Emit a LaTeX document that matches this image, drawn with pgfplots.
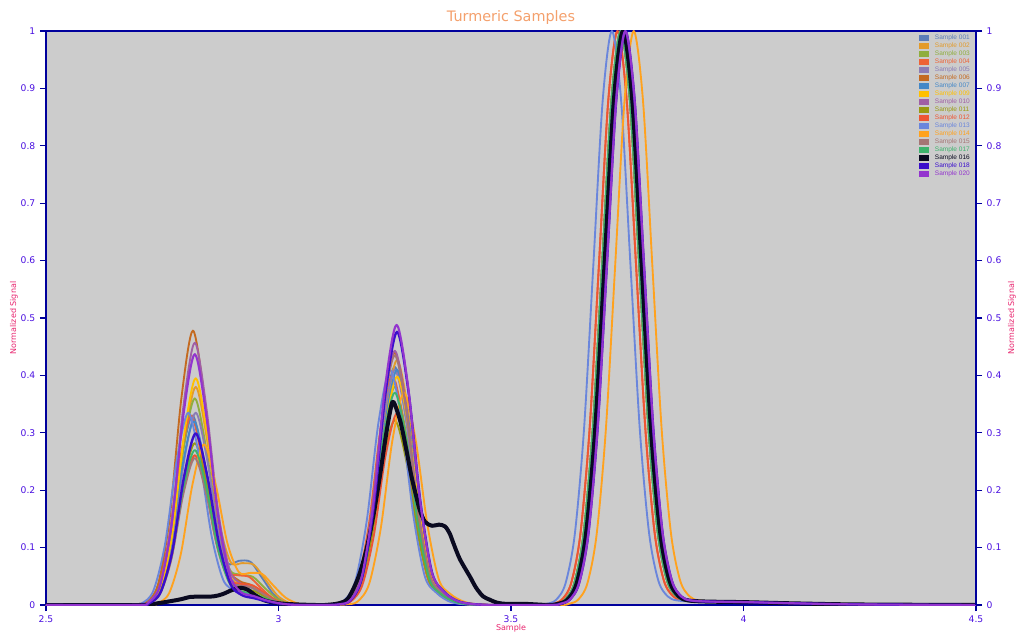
\documentclass[border=0pt]{standalone}
\usepackage{fontspec}
\setmainfont{DejaVu Sans}
\newfontfamily\legfont{Liberation Sans}
\usepackage{pgfplots}
\pgfplotsset{compat=1.18}

\definecolor{plotbg}{HTML}{CCCCCC}
\definecolor{axblue}{HTML}{00009C}
\definecolor{ticklab}{HTML}{4A10E0}
\definecolor{labpink}{HTML}{E8246E}
\definecolor{titleor}{HTML}{F4A06C}
\definecolor{c001}{HTML}{5B7DB8}
\definecolor{c002}{HTML}{E39B2B}
\definecolor{c003}{HTML}{8FAE3E}
\definecolor{c004}{HTML}{EE6336}
\definecolor{c005}{HTML}{8B7CB5}
\definecolor{c006}{HTML}{C46A20}
\definecolor{c007}{HTML}{4488C8}
\definecolor{c009}{HTML}{FFC000}
\definecolor{c010}{HTML}{A05FA5}
\definecolor{c011}{HTML}{999A10}
\definecolor{c012}{HTML}{EE5533}
\definecolor{c013}{HTML}{6A86DC}
\definecolor{c014}{HTML}{FFA21E}
\definecolor{c015}{HTML}{A57575}
\definecolor{c017}{HTML}{3DB36C}
\definecolor{c016}{HTML}{0A0A20}
\definecolor{c018}{HTML}{3A0ECC}
\definecolor{c020}{HTML}{9334CE}

\pgfplotsset{
  spec/.style={smooth, line width=1.4pt, line join=round},
  common/.style={
    scale only axis, width=697.5pt, height=430.5pt,
    xmin=2.5, xmax=4.5, ymin=0, ymax=1,
    xtick={2.5,3,3.5,4,4.5},
    ytick={0,0.1,0.2,0.3,0.4,0.5,0.6,0.7,0.8,0.9,1},
    axis line style={draw=axblue, line width=0.8pt},
    tick align=outside, major tick length=4.5pt,
    every tick/.style={axblue, line width=0.8pt},
    tick label style={font=\fontsize{6.9}{8}\selectfont, text=ticklab},
    /pgf/number format/assume math mode=true,
    label style={font=\fontsize{6}{7}\selectfont, text=labpink},
  },
}

\begin{document}
\begin{tikzpicture}
\begin{axis}[
  common, name=main,
  axis background/.style={fill=plotbg},
  xtick pos=bottom, ytick pos=left,
  xlabel={Sample}, ylabel={Normalized Signal},
  xlabel style={at={(axis description cs:0.5,-0.040)}, anchor=center},
  ylabel style={at={(axis description cs:-0.0344,0.5)}, anchor=center},
  title={Turmeric Samples},
  every axis title shift=0pt,
  title style={at={(axis description cs:0.5,1.0226)}, anchor=center,
    font=\fontsize{10.8}{12}\selectfont, text=titleor},
  legend style={at={(axis description cs:0.9345,1.0)}, anchor=north west,
    draw=none, fill=none, font=\legfont\fontsize{4.9}{5.5}\selectfont,
    row sep=0pt,
    nodes={inner sep=0.7pt, text height=3.6pt, text depth=1pt},
    /tikz/every odd column/.append style={column sep=3.5pt}},
  legend cell align=left,
  legend image code/.code={\path[fill, draw=none] (0pt,-2.35pt) rectangle (7.5pt,2.35pt);},
]

\addplot[spec, c001] coordinates {(2.5,0)
 (2.69,0) (2.715,.003) (2.74,.025) (2.765,.105) (2.79,.248) (2.815,.330) (2.84,.248) (2.865,.129) (2.89,.073) (2.915,.077) (2.94,.075) (2.965,.047) (2.99,.018) (3.015,.004) (3.04,.001) (3.065,0)
 (3.10,0) (3.125,.001) (3.15,.007) (3.175,.042) (3.2,.150) (3.225,.322) (3.25,.415) (3.275,.322) (3.3,.158) (3.325,.050) (3.35,.021) (3.375,.007) (3.4,.002) (3.45,0)
 (3.576,0) (3.596,.002) (3.616,.009) (3.636,.037) (3.656,.122) (3.676,.306) (3.696,.591) (3.716,.877) (3.736,1) (3.756,.877) (3.776,.591) (3.796,.306) (3.816,.125) (3.836,.042) (3.856,.015) (3.876,.008) (3.916,.006) (3.996,.005) (4.096,.003) (4.236,.001)
 (4.5,0)};
\addlegendentry{\textcolor{c001}{Sample 001}}

\addplot[spec, c002] coordinates {(2.5,0)
 (2.697,0) (2.722,.004) (2.747,.029) (2.772,.120) (2.797,.285) (2.822,.380) (2.847,.285) (2.872,.146) (2.897,.075) (2.922,.073) (2.947,.070) (2.972,.044) (2.997,.017) (3.022,.004) (3.047,.001) (3.072,0)
 (3.105,0) (3.13,.001) (3.155,.007) (3.18,.043) (3.205,.154) (3.23,.331) (3.255,.427) (3.28,.331) (3.305,.162) (3.33,.051) (3.355,.021) (3.38,.008) (3.405,.003) (3.455,0)
 (3.581,0) (3.601,.002) (3.621,.009) (3.641,.037) (3.661,.122) (3.681,.306) (3.701,.591) (3.721,.877) (3.741,1) (3.761,.877) (3.781,.591) (3.801,.306) (3.821,.125) (3.841,.042) (3.861,.015) (3.881,.008) (3.921,.006) (4.001,.005) (4.101,.003) (4.241,.001)
 (4.5,0)};
\addlegendentry{\textcolor{c002}{Sample 002}}

\addplot[spec, c003] coordinates {(2.5,0)
 (2.695,0) (2.72,.004) (2.745,.027) (2.77,.114) (2.795,.270) (2.82,.360) (2.845,.270) (2.87,.135) (2.895,.062) (2.92,.053) (2.945,.049) (2.97,.030) (2.995,.012) (3.02,.003) (3.045,0) (3.07,0)
 (3.10,0) (3.125,.001) (3.15,.006) (3.175,.038) (3.2,.137) (3.225,.295) (3.25,.380) (3.275,.295) (3.3,.144) (3.325,.046) (3.35,.019) (3.375,.007) (3.4,.002) (3.45,0)
 (3.576,0) (3.596,.002) (3.616,.009) (3.636,.037) (3.656,.122) (3.676,.306) (3.696,.591) (3.716,.877) (3.736,1) (3.756,.877) (3.776,.591) (3.796,.306) (3.816,.125) (3.836,.042) (3.856,.015) (3.876,.008) (3.916,.006) (3.996,.005) (4.096,.003) (4.236,.001)
 (4.5,0)};
\addlegendentry{\textcolor{c003}{Sample 003}}

\addplot[spec, c004] coordinates {(2.5,0)
 (2.687,0) (2.712,.003) (2.737,.025) (2.762,.105) (2.787,.248) (2.812,.330) (2.837,.248) (2.862,.124) (2.887,.059) (2.912,.052) (2.937,.049) (2.962,.030) (2.987,.012) (3.012,.003) (3.037,0) (3.062,0)
 (3.095,0) (3.12,.001) (3.145,.007) (3.17,.040) (3.195,.144) (3.22,.310) (3.245,.400) (3.27,.310) (3.295,.152) (3.32,.048) (3.345,.020) (3.37,.007) (3.395,.002) (3.445,0)
 (3.569,0) (3.589,.002) (3.609,.009) (3.629,.037) (3.649,.122) (3.669,.306) (3.689,.591) (3.709,.877) (3.729,1) (3.749,.877) (3.769,.591) (3.789,.306) (3.809,.125) (3.829,.042) (3.849,.015) (3.869,.008) (3.909,.006) (3.989,.005) (4.089,.003) (4.229,.001)
 (4.5,0)};
\addlegendentry{\textcolor{c004}{Sample 004}}

\addplot[spec, c005] coordinates {(2.5,0)
 (2.697,0) (2.722,.003) (2.747,.025) (2.772,.106) (2.797,.251) (2.822,.335) (2.847,.251) (2.872,.123) (2.897,.049) (2.922,.034) (2.947,.030) (2.972,.018) (2.997,.007) (3.022,.002) (3.047,0) (3.072,0)
 (3.10,0) (3.125,.001) (3.15,.007) (3.175,.041) (3.2,.148) (3.225,.318) (3.25,.410) (3.275,.318) (3.3,.156) (3.325,.049) (3.35,.021) (3.375,.007) (3.4,.002) (3.45,0)
 (3.581,0) (3.601,.002) (3.621,.009) (3.641,.037) (3.661,.122) (3.681,.306) (3.701,.591) (3.721,.877) (3.741,1) (3.761,.877) (3.781,.591) (3.801,.306) (3.821,.125) (3.841,.042) (3.861,.015) (3.881,.008) (3.921,.006) (4.001,.005) (4.101,.003) (4.241,.001)
 (4.5,0)};
\addlegendentry{\textcolor{c005}{Sample 005}}

\addplot[spec, c006] coordinates {(2.5,0)
 (2.691,0) (2.716,.005) (2.741,.036) (2.766,.152) (2.791,.359) (2.816,.478) (2.841,.359) (2.866,.174) (2.891,.066) (2.916,.042) (2.941,.035) (2.966,.021) (2.991,.008) (3.016,.002) (3.041,0) (3.066,0)
 (3.10,0) (3.125,.001) (3.15,.007) (3.175,.044) (3.2,.159) (3.225,.341) (3.25,.440) (3.275,.341) (3.3,.167) (3.325,.053) (3.35,.022) (3.375,.008) (3.4,.003) (3.45,0)
 (3.576,0) (3.596,.002) (3.616,.009) (3.636,.037) (3.656,.122) (3.676,.306) (3.696,.591) (3.716,.877) (3.736,1) (3.756,.877) (3.776,.591) (3.796,.306) (3.816,.125) (3.836,.042) (3.856,.015) (3.876,.008) (3.916,.006) (3.996,.005) (4.096,.003) (4.236,.001)
 (4.5,0)};
\addlegendentry{\textcolor{c006}{Sample 006}}

\addplot[spec, c007] coordinates {(2.5,0)
 (2.693,0) (2.718,.003) (2.743,.024) (2.768,.101) (2.793,.240) (2.818,.320) (2.843,.240) (2.868,.117) (2.893,.048) (2.918,.034) (2.943,.030) (2.968,.018) (2.993,.007) (3.018,.002) (3.043,0) (3.068,0)
 (3.105,0) (3.13,.001) (3.155,.007) (3.18,.041) (3.205,.148) (3.23,.318) (3.255,.410) (3.28,.318) (3.305,.156) (3.33,.049) (3.355,.021) (3.38,.007) (3.405,.002) (3.455,0)
 (3.581,0) (3.601,.002) (3.621,.009) (3.641,.037) (3.661,.122) (3.681,.306) (3.701,.591) (3.721,.877) (3.741,1) (3.761,.877) (3.781,.591) (3.801,.306) (3.821,.125) (3.841,.042) (3.861,.015) (3.881,.008) (3.921,.006) (4.001,.005) (4.101,.003) (4.241,.001)
 (4.5,0)};
\addlegendentry{\textcolor{c007}{Sample 007}}

\addplot[spec, c009] coordinates {(2.5,0)
 (2.697,0) (2.722,.004) (2.747,.030) (2.772,.125) (2.797,.296) (2.822,.395) (2.847,.296) (2.872,.144) (2.897,.055) (2.922,.035) (2.947,.030) (2.972,.018) (2.997,.007) (3.022,.002) (3.047,0) (3.072,0)
 (3.105,0) (3.13,.001) (3.155,.007) (3.18,.040) (3.205,.144) (3.23,.308) (3.255,.398) (3.28,.308) (3.305,.151) (3.33,.048) (3.355,.020) (3.38,.007) (3.405,.002) (3.455,0)
 (3.581,0) (3.601,.002) (3.621,.009) (3.641,.037) (3.661,.122) (3.681,.306) (3.701,.591) (3.721,.877) (3.741,1) (3.761,.877) (3.781,.591) (3.801,.306) (3.821,.125) (3.841,.042) (3.861,.015) (3.881,.008) (3.921,.006) (4.001,.005) (4.101,.003) (4.241,.001)
 (4.5,0)};
\addlegendentry{\textcolor{c009}{Sample 009}}

\addplot[spec, c010] coordinates {(2.5,0)
 (2.695,0) (2.72,.005) (2.745,.035) (2.77,.145) (2.795,.343) (2.82,.457) (2.845,.343) (2.87,.165) (2.895,.061) (2.92,.037) (2.945,.030) (2.97,.018) (2.995,.007) (3.02,.002) (3.045,0) (3.07,0)
 (3.10,0) (3.125,.001) (3.15,.008) (3.175,.045) (3.2,.160) (3.225,.343) (3.25,.443) (3.275,.343) (3.3,.168) (3.325,.053) (3.35,.022) (3.375,.008) (3.4,.003) (3.45,0)
 (3.581,0) (3.601,.002) (3.621,.009) (3.641,.037) (3.661,.122) (3.681,.306) (3.701,.591) (3.721,.877) (3.741,1) (3.761,.877) (3.781,.591) (3.801,.306) (3.821,.125) (3.841,.042) (3.861,.015) (3.881,.008) (3.921,.006) (4.001,.005) (4.101,.003) (4.241,.001)
 (4.5,0)};
\addlegendentry{\textcolor{c010}{Sample 010}}

\addplot[spec, c011] coordinates {(2.5,0)
 (2.695,0) (2.72,.003) (2.745,.021) (2.77,.089) (2.795,.212) (2.82,.282) (2.845,.212) (2.87,.103) (2.895,.041) (2.92,.028) (2.945,.025) (2.97,.015) (2.995,.006) (3.02,.001) (3.045,0) (3.07,0)
 (3.10,0) (3.125,.001) (3.15,.005) (3.175,.033) (3.2,.116) (3.225,.250) (3.25,.322) (3.275,.250) (3.3,.122) (3.325,.039) (3.35,.016) (3.375,.006) (3.4,.002) (3.45,0)
 (3.576,0) (3.596,.002) (3.616,.009) (3.636,.037) (3.656,.122) (3.676,.306) (3.696,.591) (3.716,.877) (3.736,1) (3.756,.877) (3.776,.591) (3.796,.306) (3.816,.125) (3.836,.042) (3.856,.015) (3.876,.008) (3.916,.006) (3.996,.005) (4.096,.003) (4.236,.001)
 (4.5,0)};
\addlegendentry{\textcolor{c011}{Sample 011}}

\addplot[spec, c012] coordinates {(2.5,0)
 (2.695,0) (2.72,.003) (2.745,.020) (2.77,.083) (2.795,.196) (2.82,.261) (2.845,.196) (2.87,.098) (2.895,.044) (2.92,.037) (2.945,.034) (2.97,.021) (2.995,.008) (3.02,.002) (3.045,0) (3.07,0)
 (3.105,0) (3.13,.001) (3.155,.006) (3.18,.034) (3.205,.121) (3.23,.259) (3.255,.334) (3.28,.259) (3.305,.127) (3.33,.040) (3.355,.017) (3.38,.006) (3.405,.002) (3.455,0)
 (3.569,0) (3.589,.002) (3.609,.009) (3.629,.037) (3.649,.122) (3.669,.306) (3.689,.591) (3.709,.877) (3.729,1) (3.749,.877) (3.769,.591) (3.789,.306) (3.809,.125) (3.829,.042) (3.849,.015) (3.869,.008) (3.909,.006) (3.989,.005) (4.089,.003) (4.229,.001)
 (4.5,0)};
\addlegendentry{\textcolor{c012}{Sample 012}}

\addplot[spec, c013] coordinates {(2.5,0)
 (2.681,0) (2.706,.003) (2.731,.025) (2.756,.106) (2.781,.251) (2.806,.335) (2.831,.251) (2.856,.121) (2.881,.044) (2.906,.025) (2.931,.020) (2.956,.012) (2.981,.005) (3.006,.001) (3.031,0) (3.056,0)
 (3.09,0) (3.115,.001) (3.14,.007) (3.165,.041) (3.19,.148) (3.215,.318) (3.24,.410) (3.265,.318) (3.29,.156) (3.315,.049) (3.34,.021) (3.365,.007) (3.39,.002) (3.44,0)
 (3.557,0) (3.577,.002) (3.597,.009) (3.617,.037) (3.637,.122) (3.657,.306) (3.677,.591) (3.697,.877) (3.717,1) (3.737,.877) (3.757,.591) (3.777,.306) (3.797,.125) (3.817,.042) (3.837,.015) (3.857,.008) (3.897,.006) (3.977,.005) (4.077,.003) (4.217,.001)
 (4.5,0)};
\addlegendentry{\textcolor{c013}{Sample 013}}

\addplot[spec, c014] coordinates {(2.5,0)
 (2.715,0) (2.74,.003) (2.765,.021) (2.79,.089) (2.815,.210) (2.84,.280) (2.865,.210) (2.89,.108) (2.915,.057) (2.94,.056) (2.965,.054) (2.99,.033) (3.015,.013) (3.04,.003) (3.065,0) (3.09,0)
 (3.12,0) (3.145,.001) (3.17,.006) (3.195,.037) (3.22,.134) (3.245,.287) (3.27,.370) (3.295,.287) (3.32,.141) (3.345,.044) (3.37,.019) (3.395,.007) (3.42,.002) (3.47,0)
 (3.604,0) (3.624,.002) (3.644,.009) (3.664,.037) (3.684,.122) (3.704,.306) (3.724,.591) (3.744,.877) (3.764,1) (3.784,.877) (3.804,.591) (3.824,.306) (3.844,.125) (3.864,.042) (3.884,.015) (3.904,.008) (3.944,.006) (4.024,.005) (4.124,.003) (4.264,.001)
 (4.5,0)};
\addlegendentry{\textcolor{c014}{Sample 014}}

\addplot[spec, c015] coordinates {(2.5,0)
 (2.695,0) (2.72,.003) (2.745,.019) (2.77,.081) (2.795,.192) (2.82,.256) (2.845,.192) (2.87,.095) (2.895,.041) (2.92,.033) (2.945,.030) (2.97,.018) (2.995,.007) (3.02,.002) (3.045,0) (3.07,0)
 (3.10,0) (3.125,.001) (3.15,.007) (3.175,.044) (3.2,.157) (3.225,.337) (3.25,.435) (3.275,.337) (3.3,.165) (3.325,.052) (3.35,.022) (3.375,.008) (3.4,.003) (3.45,0)
 (3.576,0) (3.596,.002) (3.616,.009) (3.636,.037) (3.656,.122) (3.676,.306) (3.696,.591) (3.716,.877) (3.736,1) (3.756,.877) (3.776,.591) (3.796,.306) (3.816,.125) (3.836,.042) (3.856,.015) (3.876,.008) (3.916,.006) (3.996,.005) (4.096,.003) (4.236,.001)
 (4.5,0)};
\addlegendentry{\textcolor{c015}{Sample 015}}

\addplot[spec, c017] coordinates {(2.5,0)
 (2.695,0) (2.72,.003) (2.745,.021) (2.77,.086) (2.795,.203) (2.82,.270) (2.845,.203) (2.87,.098) (2.895,.037) (2.92,.024) (2.945,.020) (2.97,.012) (2.995,.005) (3.02,.001) (3.045,0) (3.07,0)
 (3.10,0) (3.125,.001) (3.15,.006) (3.175,.037) (3.2,.134) (3.225,.287) (3.25,.370) (3.275,.287) (3.3,.141) (3.325,.044) (3.35,.019) (3.375,.007) (3.4,.002) (3.45,0)
 (3.576,0) (3.596,.002) (3.616,.009) (3.636,.037) (3.656,.122) (3.676,.306) (3.696,.591) (3.716,.877) (3.736,1) (3.756,.877) (3.776,.591) (3.796,.306) (3.816,.125) (3.836,.042) (3.856,.015) (3.876,.008) (3.916,.006) (3.996,.005) (4.096,.003) (4.236,.001)
 (4.5,0)};
\addlegendentry{\textcolor{c017}{Sample 017}}

\addplot[spec, c016, line width=3pt] coordinates {(2.5,0)
 (2.70,0) (2.74,.003) (2.77,.007) (2.79,.010) (2.81,.014) (2.83,.0145) (2.86,.015) (2.88,.019) (2.90,.026) (2.92,.030) (2.935,.026) (2.95,.017) (2.97,.008) (3.0,.003) (3.04,.001) (3.08,0)
 (3.10,0) (3.13,.003) (3.15,.012) (3.172,.049) (3.19,.100) (3.205,.160) (3.218,.224) (3.23,.290) (3.24,.337) (3.247,.354) (3.262,.320) (3.275,.270) (3.286,.224) (3.296,.190) (3.304,.165) (3.315,.145) (3.33,.138) (3.345,.140) (3.358,.137) (3.368,.125) (3.376,.108) (3.39,.080) (3.412,.049) (3.425,.030) (3.44,.015) (3.455,.009) (3.47,.004) (3.49,.002) (3.53,.002)
 (3.581,0) (3.601,.002) (3.621,.009) (3.641,.037) (3.661,.122) (3.681,.306) (3.701,.591) (3.721,.877) (3.741,1) (3.761,.877) (3.781,.591) (3.801,.306) (3.821,.125) (3.841,.042) (3.861,.015) (3.881,.008) (3.921,.006) (4.001,.005) (4.101,.003) (4.241,.001)
 (4.5,0)};
\addlegendentry{\textcolor{c016}{Sample 016}}

\addplot[spec, c018, line width=1.8pt] coordinates {(2.5,0)
 (2.697,0) (2.722,.003) (2.747,.023) (2.772,.095) (2.797,.224) (2.822,.299) (2.847,.224) (2.872,.107) (2.897,.036) (2.922,.017) (2.947,.012) (2.972,.007) (2.997,.003) (3.022,.001) (3.047,0) (3.072,0)
 (3.105,0) (3.13,.001) (3.155,.008) (3.18,.048) (3.205,.172) (3.23,.369) (3.255,.476) (3.28,.369) (3.305,.181) (3.33,.057) (3.355,.024) (3.38,.009) (3.405,.003) (3.455,0)
 (3.586,0) (3.606,.002) (3.626,.009) (3.646,.037) (3.666,.122) (3.686,.306) (3.706,.591) (3.726,.877) (3.746,1) (3.766,.877) (3.786,.591) (3.806,.306) (3.826,.125) (3.846,.042) (3.866,.015) (3.886,.008) (3.926,.006) (4.006,.005) (4.106,.003) (4.246,.001)
 (4.5,0)};
\addlegendentry{\textcolor{c018}{Sample 018}}

\addplot[spec, c020, line width=1.6pt] coordinates {(2.5,0)
 (2.695,0) (2.72,.004) (2.745,.033) (2.77,.139) (2.795,.328) (2.82,.437) (2.845,.328) (2.87,.156) (2.895,.052) (2.92,.022) (2.945,.016) (2.97,.009) (2.995,.004) (3.02,.001) (3.045,0) (3.07,0)
 (3.104,0) (3.129,.001) (3.154,.008) (3.179,.049) (3.204,.176) (3.229,.378) (3.254,.488) (3.279,.378) (3.304,.185) (3.329,.059) (3.354,.024) (3.379,.009) (3.404,.003) (3.454,0)
 (3.586,0) (3.606,.002) (3.626,.009) (3.646,.037) (3.666,.122) (3.686,.306) (3.706,.591) (3.726,.877) (3.746,1) (3.766,.877) (3.786,.591) (3.806,.306) (3.826,.125) (3.846,.042) (3.866,.015) (3.886,.008) (3.926,.006) (4.006,.005) (4.106,.003) (4.246,.001)
 (4.5,0)};
\addlegendentry{\textcolor{c020}{Sample 020}}

\end{axis}

\begin{axis}[
  common,
  axis x line=none, axis y line*=right,
  ylabel={Normalized Signal},
  ylabel style={at={(axis description cs:1.0387,0.5)}, anchor=center},
]
\end{axis}

\pgfresetboundingbox
\path[use as bounding box] ([xshift=-34.5pt,yshift=-26.25pt]main.south west)
  rectangle ([xshift=36pt,yshift=23.25pt]main.north east);
\end{tikzpicture}
\end{document}
